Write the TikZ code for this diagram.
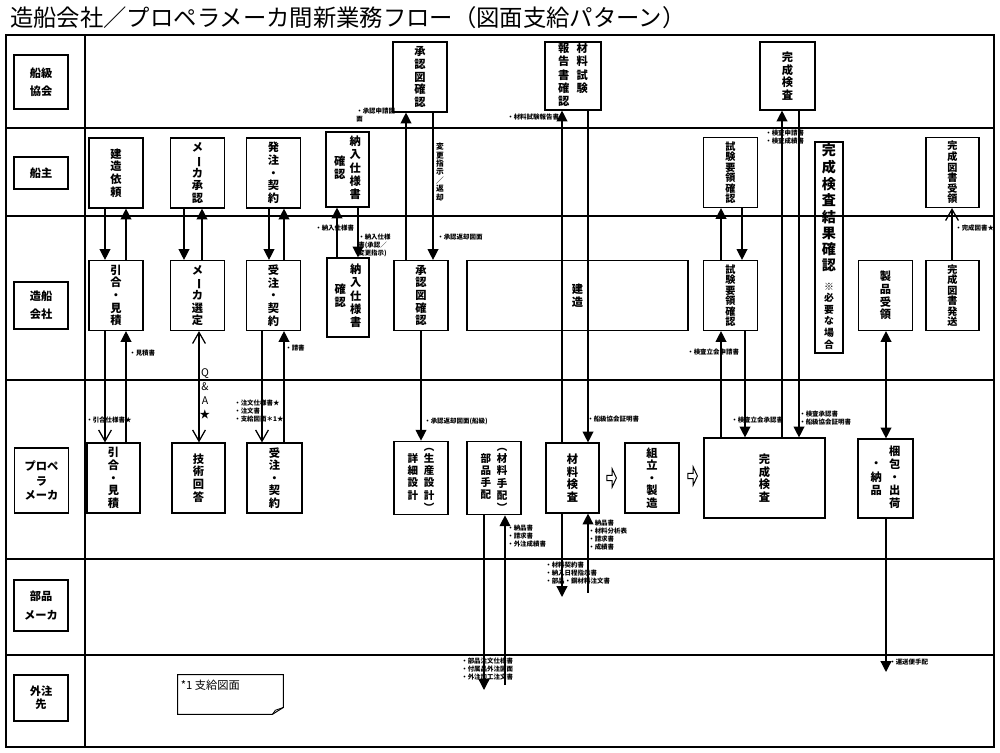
\documentclass[tikz,border=0pt]{standalone}
\usepackage{graphicx}
\usepackage{fontspec}
\setmainfont{Noto Sans CJK JP}
\usetikzlibrary{arrows.meta, shapes.arrows}
\newcommand{\vcol}[2][c]{\begin{tabular}[#1]{@{}c@{}}#2\end{tabular}}
\newcommand{\chouon}{\rotatebox[origin=c]{-90}{ー}}
\newcommand{\lpar}{\rotatebox[origin=c]{-90}{（}}
\newcommand{\rpar}{\rotatebox[origin=c]{-90}{）}}

\begin{document}
\begin{tikzpicture}[x=0.025cm, y=-0.025cm,
  lanebox/.style={draw, line width=0.8pt, minimum width=1.35cm, inner sep=0pt, align=center,
                  font=\fontsize{8}{13}\selectfont\bfseries},
  proc/.style={draw, line width=0.8pt, minimum width=1.35cm, minimum height=1.75cm, inner sep=0pt,
               align=center, font=\fontsize{8}{9}\selectfont\bfseries},
  small/.style={font=\fontsize{7.2}{7.5}\selectfont\bfseries},
  arr/.style={-{Triangle[length=0.27cm,width=0.27cm]}, line width=0.9pt},
  darr/.style={{Triangle[length=0.27cm,width=0.27cm]}-{Triangle[length=0.27cm,width=0.27cm]}, line width=0.9pt},
  oarr/.style={-{Straight Barb[length=0.28cm,width=0.32cm]}, line width=0.9pt},
  doarr/.style={{Straight Barb[length=0.28cm,width=0.32cm]}-{Straight Barb[length=0.28cm,width=0.32cm]}, line width=0.9pt},
  doc/.style={font=\fontsize{4.6}{5.7}\selectfont\bfseries, inner sep=0pt, align=left},
  blockarrow/.style={draw, line width=0.7pt, single arrow, minimum height=0.24cm, minimum width=0.45cm,
                     single arrow head extend=0.03cm, single arrow tip angle=130, inner sep=0pt}
]
\useasboundingbox (0,0) rectangle (1000,753);

% title
\node[anchor=west, inner sep=0pt, font=\fontsize{16.6}{18}\selectfont] (title) at (10,18)
  {造船会社／プロペラメーカ間新業務フロー（図面支給パターン）};

% swimlanes
\draw[line width=1.4pt] (6,35) rectangle (994,747);
\draw[line width=1pt] (85,35) -- (85,747);
\foreach \y in {128,216,380,559,655}
  \draw[line width=1pt] (6,\y) -- (994,\y);

\node[lanebox, minimum height=1.35cm] (l1) at (41,82) {船級\\協会};
\node[lanebox, minimum height=0.8cm] (l2) at (41,173) {船主};
\node[lanebox, minimum height=1.175cm] (l3) at (41,305.5) {造船\\会社};
\node[lanebox, minimum height=1.625cm, font=\fontsize{8}{10.5}\selectfont\bfseries] (l4) at (41.5,480.5) {プロペ\\ラ\\メーカ};
\node[lanebox, minimum height=1.275cm] (l5) at (41,605.5) {部品\\メーカ};
\node[lanebox, minimum height=1.15cm, font=\fontsize{8}{9.5}\selectfont\bfseries] (l6) at (41,698) {外注\\先};

% 船級協会
\node[proc] (s1) at (420,77) {承\\認\\図\\確\\認};
\node[proc, minimum width=1.4cm, minimum height=1.7cm] (s2) at (573,76)
  {\vcol[t]{報\\告\\書\\確\\認}\hspace{5pt}\vcol[t]{材\\料\\試\\験}};
\node[proc, minimum width=1.375cm, minimum height=1.7cm] (s3) at (787.5,76) {完\\成\\検\\査};

% 船主
\node[proc] (o1) at (116,173) {建\\造\\依\\頼};
\node[proc] (o2) at (197.5,173) {メ\\\chouon\\カ\\承\\認};
\node[proc] (o3) at (273.5,173) {発\\注\\・\\契\\約};
\node[proc, minimum width=1.075cm, minimum height=1.875cm] (o4) at (347.5,169.5)
  {\vcol{確\\認}\hspace{3pt}\vcol{納\\入\\仕\\様\\書}};
\node[proc, small] (o5) at (730.5,172.5) {試\\験\\要\\領\\確\\認};
\node[proc, small, minimum width=1.325cm] (o6) at (952.5,172.5) {完\\成\\図\\書\\受\\領};

% 造船会社
\node[proc] (z1) at (116,295.5) {引\\合\\・\\見\\積};
\node[proc] (z2) at (197.5,295.5) {メ\\\chouon\\カ\\選\\定};
\node[proc] (z3) at (273.5,295.5) {受\\注\\・\\契\\約};
\node[proc, minimum width=1.05cm, minimum height=1.975cm] (z4) at (348,297.5)
  {\vcol{確\\認}\hspace{3pt}\vcol{納\\入\\仕\\様\\書}};
\node[proc] (z5) at (421,295.5) {承\\認\\図\\確\\認};
\node[proc, minimum width=5.525cm] (z6) at (577.5,295.5) {建\\造};
\node[proc, small] (z7) at (730.5,295.5) {試\\験\\要\\領\\確\\認};
\node[proc, minimum width=0.7cm, minimum height=5.275cm] (z8) at (829,247.5)
  {{\fontsize{10}{10.8}\selectfont\vcol{完\\成\\検\\査\\結\\果\\確\\認}}\\[4pt]
   {\fontsize{7}{7.8}\selectfont\vcol{※\\必\\要\\な\\場\\合}}};
\node[proc] (z9) at (885.5,295.5) {製\\品\\受\\領};
\node[proc, small, minimum width=1.325cm] (z10) at (952.5,295.5) {完\\成\\図\\書\\発\\送};

% プロペラメーカ
\node[proc, minimum width=1.325cm] (p1) at (113.5,478) {引\\合\\・\\見\\積};
\node[proc, minimum width=1.325cm] (p2) at (198.5,478) {技\\術\\回\\答};
\node[proc, minimum width=1.375cm] (p3) at (274.5,478) {受\\注\\・\\契\\約};
\node[proc, font=\fontsize{7.5}{7.6}\selectfont\bfseries] (p4) at (421,478)
  {\vcol{詳\\細\\設\\計}\hspace{4pt}\vcol{\lpar\\生\\産\\設\\計\\\rpar}};
\node[proc, font=\fontsize{7.5}{7.6}\selectfont\bfseries] (p5) at (494,478)
  {\vcol{部\\品\\手\\配}\hspace{4pt}\vcol{\lpar\\材\\料\\手\\配\\\rpar}};
\node[proc, minimum width=1.325cm] (p6) at (572.5,478) {材\\料\\検\\査};
\node[proc] (p7) at (652,478) {組\\立\\・\\製\\造};
\node[proc, minimum width=3.025cm, minimum height=2cm] (p8) at (764.5,478) {完\\成\\検\\査};
\node[proc, minimum width=1.375cm, minimum height=1.975cm] (p9) at (885.5,478.5)
  {\vcol{・\\納\\品}\hspace{5pt}\vcol{梱\\包\\・\\出\\荷}};

\node[blockarrow] (ba1) at (611,478) {};
\node[blockarrow] (ba2) at (692,476) {};

% note
\node[minimum width=2.625cm, minimum height=0.975cm, inner sep=0pt] (note) at (230.5,694.5) {};
\draw[line width=0.7pt] (note.north west) -- (note.north east) -- ([yshift=0.17cm]note.south east)
  -- ([xshift=-0.27cm]note.south east) -- (note.south west) -- cycle;
\draw[line width=0.6pt] ([yshift=0.17cm]note.south east) -- ([xshift=-0.2cm,yshift=0.1cm]note.south east)
  -- ([xshift=-0.27cm]note.south east);
\node[anchor=north west, inner sep=0pt, font=\fontsize{8}{9}\selectfont] (notetxt)
  at ([xshift=0.07cm,yshift=-0.12cm]note.north west) {*1 支給図面};

\coordinate (c1) at (562,597);
\coordinate (c2) at (588,593);
\coordinate (c3) at (484,690);
\coordinate (c4) at (505,685);
\coordinate (c5) at (886,672);

% connectors
\draw[arr] (o1.south -| 105,0) -- (z1.north -| 105,0);
\draw[arr] (z1.north -| 126,0) -- (o1.south -| 126,0);
\draw[oarr] (z1.south -| 105,0) -- (p1.north -| 105,0);
\draw[arr] (p1.north -| 126,0) -- (z1.south -| 126,0);

\draw[arr] (o2.south -| 184,0) -- (z2.north -| 184,0);
\draw[arr] (z2.north -| 202,0) -- (o2.south -| 202,0);
\draw[doarr] (z2.south -| 199,0) -- (p2.north -| 199,0);

\draw[arr] (o3.south -| 269,0) -- (z3.north -| 269,0);
\draw[arr] (z3.north -| 284,0) -- (o3.south -| 284,0);
\draw[oarr] (z3.south -| 262,0) -- (p3.north -| 262,0);
\draw[arr] (p3.north -| 284,0) -- (z3.south -| 284,0);

\draw[arr] (z4.north -| 337,0) -- (o4.south -| 337,0);
\draw[arr] (o4.south -| 358,0) -- (z4.north -| 358,0);

\draw[arr] (z5.north -| 406,0) -- (s1.south -| 406,0);
\draw[arr] (s1.south -| 433,0) -- (z5.north -| 433,0);
\draw[arr] (z5.south -| 421,0) -- (p4.north -| 421,0);

\draw[arr] (p6.north -| 562,0) -- (s2.south -| 562,0);
\draw[arr] (s2.south -| 588,0) -- (p6.north -| 588,0);
\draw[arr] (p6.south -| 562,0) -- (c1);
\draw[arr] (c2) -- (p6.south -| 588,0);

\draw[arr] (p5.south -| 484,0) -- (c3);
\draw[arr] (c4) -- (p5.south -| 505,0);

\draw[arr] (z7.north -| 721,0) -- (o5.south -| 721,0);
\draw[arr] (o5.south -| 742,0) -- (z7.north -| 742,0);
\draw[arr] (p8.north -| 721,0) -- (z7.south -| 721,0);
\draw[arr] (z7.south -| 745,0) -- (p8.north -| 745,0);

\draw[arr] (p8.north -| 782,0) -- (s3.south -| 782,0);
\draw[arr] (s3.south -| 799,0) -- (p8.north -| 799,0);

\draw[darr] (z9.south -| 886,0) -- (p9.north -| 886,0);
\draw[arr] (p9.south -| 886,0) -- (c5);
\draw[oarr] (z10.north -| 952,0) -- (o6.south -| 952,0);

% document labels
\node[doc, anchor=north west] (d1) at (356,108) {・承認申請図\\面};
\node[doc, anchor=west] (d2) at (507,117) {・材料試験報告書};
\node[doc, anchor=north west] (d3) at (765,130) {・検査申請書\\・検査成績書};
\node[doc, anchor=west] (d4) at (315,228) {・納入仕様書};
\node[doc, anchor=north west] (d5) at (358,234) {・納入仕様\\書(承認／\\変更指示)};
\node[doc, align=center, font=\fontsize{5.5}{6}\selectfont\bfseries] (d6) at (440,172) {変\\更\\指\\示\\／\\返\\却};
\node[doc, anchor=west] (d7) at (437,237) {・承認返却図面};
\node[doc, anchor=west] (d8) at (129,353) {・見積書};
\node[doc, anchor=west] (d9) at (285,348) {・請書};
\node[doc, anchor=west] (d10) at (86,420) {・引合仕様書★};
\node[doc, anchor=north west] (d11) at (234,400) {・注文仕様書★\\・注文書\\・支給図面＊1★};
\node[align=center, inner sep=0pt, font=\fontsize{7.5}{10}\selectfont] (qa) at (205,394) {Q\\\&\\A\\★};
\node[doc, anchor=west] (d13) at (424,421) {・承認返却図面(船級)};
\node[doc, anchor=west] (d14) at (587,419) {・船級協会証明書};
\node[doc, anchor=west] (d15) at (687,352) {・検査立会申請書};
\node[doc, anchor=west] (d16) at (731,420) {・検査立会承認書};
\node[doc, anchor=north west] (d17) at (799,411) {・検査承認書\\・船級協会証明書};
\node[doc, anchor=west] (d18) at (955,228) {・完成図書★};
\node[doc, anchor=north west] (d19) at (507,525) {・納品書\\・請求書\\・外注成績書};
\node[doc, anchor=north west] (d20) at (588,520) {・納品書\\・材料分析表\\・請求書\\・成績書};
\node[doc, anchor=north west] (d21) at (545,562) {・材料契約書\\・納入日程指示書\\・部品・鋼材料注文書};
\node[doc, anchor=north west] (d22) at (461,658) {・部品注文仕様書\\・付属品外注図面\\・外注加工注文書};
\node[doc, anchor=west] (d23) at (889,662) {・運送便手配};
\end{tikzpicture}
\end{document}
